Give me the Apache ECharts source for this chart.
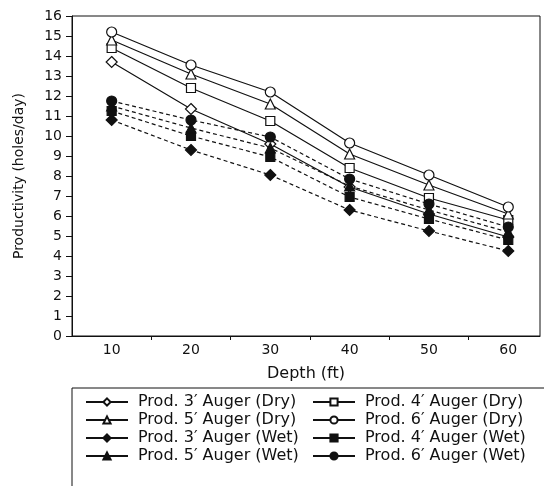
<!DOCTYPE html>
<html>
<head>
<meta charset="utf-8">
<script src="https://cdn.jsdelivr.net/npm/echarts@6/dist/echarts.min.js"></script>
<style>
  html, body { margin: 0; padding: 0; background: #fff; }
  #chart { width: 544px; height: 486px; }
</style>
</head>
<body>
<div id="chart"></div>
<script>
// depth in ft
var depths = [10, 20, 30, 40, 50, 60]

// productivity in holes/day
var dry3 = [13.7, 11.35, 9.6, 7.45, 6.1, 4.95]
var dry4 = [14.4, 12.4, 10.75, 8.4, 6.9, 5.8]
var dry5 = [14.8, 13.1, 11.6, 9.1, 7.55, 6.1]
var dry6 = [15.2, 13.55, 12.2, 9.65, 8.05, 6.45]
var wet3 = [10.8, 9.3, 8.05, 6.3, 5.25, 4.25]
var wet4 = [11.25, 10.0, 8.95, 6.95, 5.85, 4.8]
var wet5 = [11.5, 10.4, 9.4, 7.5, 6.3, 5.2]
var wet6 = [11.75, 10.8, 9.95, 7.85, 6.6, 5.45]

var xLabels = [10, 20, 30, 40, 50, 60]
var xTicks = [15, 25, 35, 45, 55]

var font = 'DejaVu Sans, sans-serif'

function pairs (vals) {
  return depths.map(function (d, i) { return [d, vals[i]] })
}

function line (name, vals, symbol, size, filled, dashed) {
  return {
    name: name,
    type: 'line',
    data: pairs(vals),
    symbol: symbol,
    symbolSize: size,
    showAllSymbol: true,
    lineStyle: { color: '#111', width: 1.2, type: dashed ? [4, 3] : 'solid' },
    itemStyle: { color: filled ? '#111' : '#fff', borderColor: '#111', borderWidth: 1.2 },
    emphasis: { disabled: true },
    animation: false
  }
}

var chart = echarts.init(document.getElementById('chart'))
chart.setOption({
  backgroundColor: '#fff',
  textStyle: { fontFamily: font },
  grid: {
    left: 72, right: 4, top: 16, bottom: 150,
    show: true, borderColor: '#111', borderWidth: 1
  },
  xAxis: {
    type: 'value',
    min: 5,
    max: 64,
    name: 'Depth (ft)',
    nameLocation: 'middle',
    nameGap: 30,
    nameTextStyle: { fontSize: 16, color: '#111', fontFamily: font },
    axisLine: { lineStyle: { color: '#111', width: 1 } },
    axisTick: { customValues: xTicks, length: 4, lineStyle: { color: '#111' } },
    axisLabel: { customValues: xLabels, fontSize: 14, color: '#111', margin: 7, fontFamily: font },
    splitLine: { show: false }
  },
  yAxis: {
    type: 'value',
    min: 0,
    max: 16,
    interval: 1,
    name: 'Productivity (holes/day)',
    nameLocation: 'middle',
    nameGap: 46,
    nameTextStyle: { fontSize: 14, color: '#111', fontFamily: font },
    axisLine: { show: true, lineStyle: { color: '#111', width: 1 } },
    axisTick: { show: true, length: 6, lineStyle: { color: '#111' } },
    axisLabel: { fontSize: 14, color: '#111', margin: 10, fontFamily: font },
    splitLine: { show: false }
  },
  legend: {
    left: 72,
    top: 388,
    orient: 'horizontal',
    width: 460,
    padding: [6, 10, 40, 13],
    borderColor: '#111',
    borderWidth: 1,
    itemWidth: 42,
    itemHeight: 9,
    itemGap: 2,
    lineStyle: { type: 'solid' },
    textStyle: {
      fontSize: 16, color: '#111', width: 172, lineHeight: 14,
      padding: [0, 0, 0, 5], fontFamily: font
    },
    data: [
      'Prod. 3′ Auger (Dry)', 'Prod. 4′ Auger (Dry)',
      'Prod. 5′ Auger (Dry)', 'Prod. 6′ Auger (Dry)',
      'Prod. 3′ Auger (Wet)', 'Prod. 4′ Auger (Wet)',
      'Prod. 5′ Auger (Wet)', 'Prod. 6′ Auger (Wet)'
    ]
  },
  series: [
    line('Prod. 3′ Auger (Dry)', dry3, 'diamond', 11, false, false),
    line('Prod. 4′ Auger (Dry)', dry4, 'rect', 9, false, false),
    line('Prod. 5′ Auger (Dry)', dry5, 'triangle', 10, false, false),
    line('Prod. 6′ Auger (Dry)', dry6, 'circle', 10, false, false),
    line('Prod. 3′ Auger (Wet)', wet3, 'diamond', 11, true, true),
    line('Prod. 4′ Auger (Wet)', wet4, 'rect', 9, true, true),
    line('Prod. 5′ Auger (Wet)', wet5, 'triangle', 10, true, true),
    line('Prod. 6′ Auger (Wet)', wet6, 'circle', 10, true, true)
  ]
})
</script>
</body>
</html>
